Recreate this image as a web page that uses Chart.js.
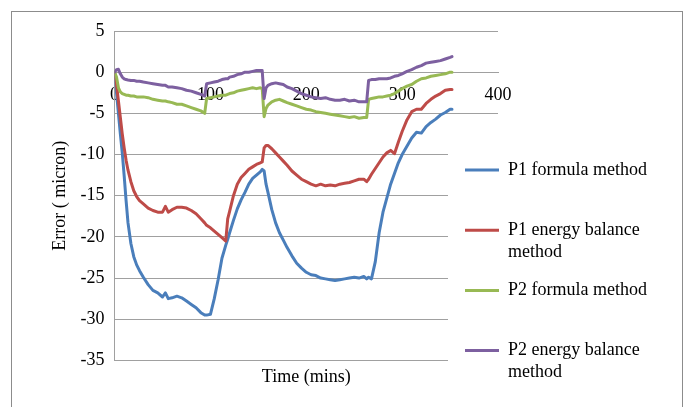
<!DOCTYPE html>
<html>
<head>
<meta charset="utf-8">
<script src="https://cdn.jsdelivr.net/npm/chart.js@4.4.1/dist/chart.umd.min.js"></script>
<style>
  html, body { margin: 0; padding: 0; background: #fff; overflow: hidden; width: 689px; height: 407px; }
  #wrap { position: absolute; left: 0; top: 0; width: 689px; height: 407px; }
  #frame { position: absolute; left: 11px; top: 11px; width: 670px; height: 420px; border: 1px solid #8c8c8c; pointer-events: none; }
</style>
</head>
<body>
<div id="wrap"><canvas id="errorChart"></canvas></div>
<div id="frame"></div>
<script>
// Time axis (mins), shared by all four series
const timeMins = [
  0, 2, 4, 6, 8, 10, 12, 14, 17, 20, 23, 26,
  30, 35, 40, 45, 50, 53, 56,
  60, 65, 70, 75, 80, 85, 90, 94, 96,
  100, 104, 108, 112, 116, 118, 120,
  124, 128, 132, 136, 140, 144, 148, 152,
  154, 156, 158, 160, 164, 168, 172, 176, 180,
  185, 190, 195, 200, 205, 210, 215, 220, 225, 230, 235, 240, 245, 250, 255, 260,
  263, 265, 268, 272, 276, 280, 284, 288, 292, 296, 300,
  305, 310, 315, 320, 325, 330, 335, 340, 345, 350, 352
];

const p1Formula = [
  0, -2.5, -5, -7.5, -9.8, -12.6, -15.6, -18.3, -20.8, -22.4, -23.4, -24.1,
  -24.9, -25.8, -26.5, -26.8, -27.3, -26.8, -27.5,
  -27.4, -27.2, -27.4, -27.8, -28.2, -28.6, -29.2, -29.5, -29.5,
  -29.4, -27.5, -25.2, -22.6, -21.0, -20.3, -19.5,
  -18.0, -16.6, -15.5, -14.6, -13.6, -12.9, -12.5, -12.1,
  -11.8, -12.0, -13.6, -14.6, -16.7, -18.3, -19.5, -20.4, -21.3,
  -22.3, -23.2, -23.8, -24.3, -24.6, -24.7, -25.0, -25.1, -25.2, -25.3, -25.2, -25.1, -25.0, -24.9, -25.0, -24.8,
  -25.1, -24.9, -25.1, -23.0, -19.5, -17.0, -15.3, -13.6, -12.3, -11.0, -10.0,
  -9.0, -8.0, -7.3, -7.4, -6.6, -6.1, -5.7, -5.2, -4.9, -4.5, -4.5
];

const p1Energy = [
  0, -1.5, -3.5, -5.5, -7.5, -9.2, -10.7, -11.9, -13.3, -14.4, -15.1, -15.6,
  -16.0, -16.5, -16.8, -17.0, -17.0, -16.3, -17.0,
  -16.7, -16.4, -16.4, -16.5, -16.8, -17.2, -17.8, -18.3, -18.6,
  -18.9, -19.3, -19.7, -20.1, -20.5, -17.8, -16.9,
  -15.0, -13.6, -12.8, -12.3, -11.8, -11.5, -11.2, -11.0,
  -10.9, -9.2, -8.9, -8.9, -9.3, -9.8, -10.3, -10.8, -11.3,
  -12.0, -12.5, -13.0, -13.3, -13.6, -13.8, -13.6, -13.8, -13.7, -13.8, -13.6, -13.5, -13.4, -13.2, -13.0, -13.0,
  -13.3, -13.0, -12.4, -11.7, -11.0, -10.3, -9.8, -9.5, -9.9, -8.5, -7.2,
  -5.8, -4.8, -4.5, -4.5, -3.8, -3.3, -2.9, -2.6, -2.2, -2.1, -2.1
];

const p2Formula = [
  0, -0.6, -1.9, -2.4, -2.6, -2.7, -2.8, -2.8, -2.9, -2.9, -3.0, -3.0,
  -3.0, -3.1, -3.3, -3.4, -3.5, -3.5, -3.6,
  -3.7, -3.9, -3.9, -4.1, -4.3, -4.5, -4.7, -5.0, -3.2,
  -3.1, -3.0, -2.9, -2.8, -2.8, -2.7, -2.6,
  -2.5, -2.3, -2.2, -2.1, -2.0, -1.9, -2.0, -1.9,
  -2.0, -5.4, -4.4, -4.0, -3.6, -3.4, -3.3, -3.5, -3.7,
  -3.9, -4.1, -4.3, -4.5, -4.6, -4.8, -4.9, -5.0, -5.1, -5.2, -5.3, -5.4, -5.5, -5.4, -5.6, -5.5,
  -5.5, -3.3, -3.2, -3.1, -3.0, -3.0, -2.9, -2.8, -2.6, -2.3, -2.0,
  -1.7, -1.5, -1.1, -0.8, -0.7, -0.5, -0.4, -0.3, -0.2, 0.0, 0.0
];

const p2Energy = [
  0, 0.3, 0.35, -0.2, -0.6, -0.8, -0.9, -0.95, -1.0, -1.0, -1.1, -1.1,
  -1.2, -1.3, -1.4, -1.5, -1.6, -1.6, -1.8,
  -1.8, -1.9, -2.0, -2.2, -2.3, -2.5, -2.7, -2.9, -1.4,
  -1.3, -1.2, -1.1, -0.9, -0.8, -0.8, -0.6,
  -0.5, -0.3, -0.2, 0.0, 0.0, 0.1, 0.2, 0.2,
  0.2, -3.2, -1.9, -1.6, -1.4, -1.3, -1.4, -1.5, -1.8,
  -2.0, -2.3, -2.6, -2.8, -3.0, -3.1, -3.2, -3.1, -3.3, -3.4, -3.4, -3.3, -3.5, -3.4, -3.6, -3.6,
  -3.6, -1.0, -0.9, -0.9, -0.8, -0.8, -0.8, -0.7, -0.5, -0.4, -0.2,
  0.1, 0.3, 0.6, 0.8, 1.1, 1.2, 1.3, 1.4, 1.6, 1.8, 1.9
];

const seriesNames = [
  "P1 formula method",
  "P1 energy balance method",
  "P2 formula method",
  "P2 energy balance method"
];
// legend text as Excel wraps it
const legendLines = [
  ["P1 formula method", ""],
  ["P1 energy balance", "method"],
  ["P2 formula method", ""],
  ["P2 energy balance", "method"]
];

const yTicksMin = -35;
const yTicksMax = 5;
const xTicksMin = 0;
const xTicksMax = 400;

const serif = "'Liberation Serif', 'Times New Roman', serif";
const gridGray = "#a0a0a0";
const labelFont = { family: serif, size: 18 };

function toPoints(values) {
  return timeMins.map((t, i) => ({ x: t, y: values[i] }));
}

function makeSeries(label, values, color, order) {
  return {
    label: label,
    data: toPoints(values),
    borderColor: color,
    backgroundColor: color,
    borderWidth: 3,
    pointRadius: 0,
    tension: 0,
    fill: false,
    borderJoinStyle: "round",
    borderCapStyle: "round",
    order: order,
  };
}

// Put the legend over the right part of the plot, with a white patch behind it
const legendSpot = {
  id: "legendSpot",
  afterLayout(chart) {
    const lg = chart.legend;
    const area = chart.chartArea;
    const pad = lg.options.labels.padding;
    lg.left = area.right - 33 - pad;
    lg.top = area.top + 130 - pad;
    lg.width = 215;
    lg.height = 260;
    lg.right = lg.left + lg.width;
    lg.bottom = lg.top + lg.height;
  },
  beforeDatasetsDraw(chart) {
    const ctx = chart.ctx;
    const area = chart.chartArea;
    ctx.save();
    ctx.fillStyle = "#fff";
    ctx.fillRect(area.right - 50, area.top + 96, 228, 300);
    ctx.restore();
    chart.legend.draw();
  },
};

document.addEventListener("DOMContentLoaded", function () {
  const ctx = document.getElementById("errorChart").getContext("2d");
  new Chart(ctx, {
    type: "line",
    data: {
      datasets: [
        makeSeries(seriesNames[0], p1Formula, "#4a7ebb", 3),
        makeSeries(seriesNames[1], p1Energy, "#be4b48", 2),
        makeSeries(seriesNames[2], p2Formula, "#98b954", 1),
        makeSeries(seriesNames[3], p2Energy, "#7d60a0", 0),
      ],
    },
    plugins: [legendSpot],
    options: {
      responsive: true,
      maintainAspectRatio: false,
      animation: false,
      layout: {
        padding: { left: 49, top: 31, right: 191, bottom: 19 },
      },
      plugins: {
        tooltip: { enabled: false },
        legend: {
          position: "chartArea",
          align: "start",
          labels: {
            boxWidth: 34,
            boxHeight: 3,
            padding: 17,
            color: "#000",
            font: labelFont,
            sort: (a, b) => a.datasetIndex - b.datasetIndex,
            generateLabels(chart) {
              return chart.data.datasets.map((ds, i) => ({
                text: legendLines[i],
                fillStyle: ds.borderColor,
                strokeStyle: ds.borderColor,
                lineWidth: 0,
                hidden: false,
                datasetIndex: i,
              }));
            },
          },
        },
      },
      scales: {
        x: {
          type: "linear",
          min: xTicksMin,
          max: xTicksMax,
          position: { y: 0 },
          ticks: {
            stepSize: 100,
            color: "#000",
            font: labelFont,
            padding: 12,
            maxRotation: 0,
          },
          grid: { display: false, drawTicks: false },
          border: { display: true, color: gridGray },
        },
        x2: {
          type: "linear",
          axis: "x",
          min: xTicksMin,
          max: xTicksMax,
          position: "bottom",
          ticks: { display: false },
          grid: { display: false, drawTicks: false },
          border: { display: false },
          title: {
            display: true,
            text: "Time (mins)",
            color: "#000",
            font: labelFont,
            padding: { top: 6, bottom: 0 },
          },
        },
        y: {
          min: yTicksMin,
          max: yTicksMax,
          ticks: {
            stepSize: 5,
            color: "#000",
            font: labelFont,
            padding: 10,
          },
          grid: { color: gridGray, drawTicks: false },
          border: { color: gridGray },
          title: {
            display: true,
            text: "Error ( micron)",
            color: "#000",
            font: labelFont,
            padding: { top: 0, bottom: 0 },
          },
        },
      },
    },
  });
});
</script>
</body>
</html>
